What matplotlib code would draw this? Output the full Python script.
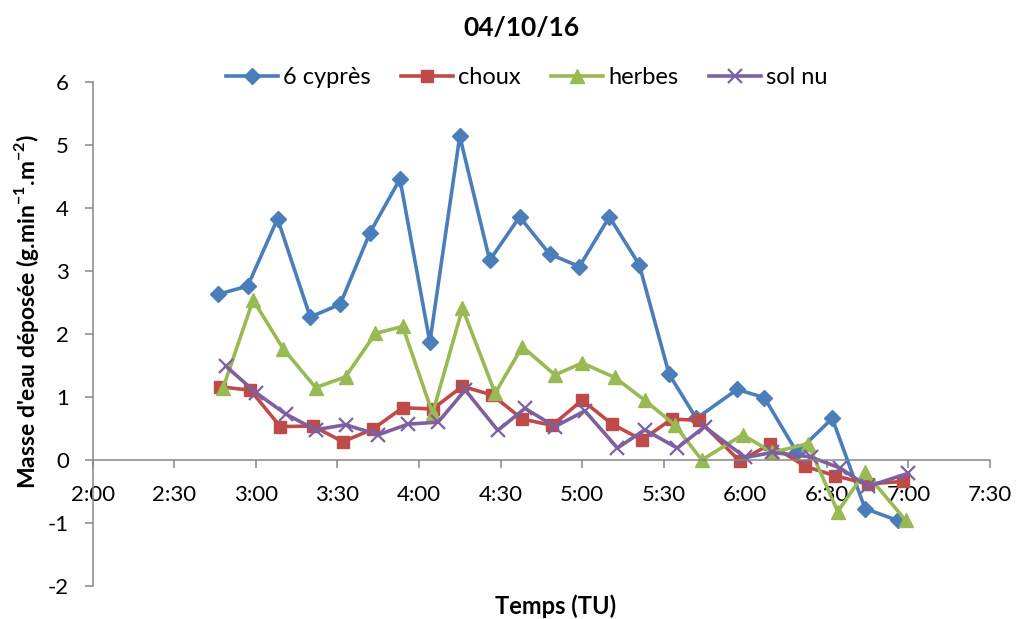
import matplotlib.pyplot as plt
from matplotlib.ticker import FixedLocator, FuncFormatter

plt.rcParams['font.family'] = ['Lato', 'DejaVu Sans']
plt.rcParams['axes.unicode_minus'] = False

# Time stamps (TU) and deposited water mass for each plot
t_cypres = ['2:46', '2:57', '3:08', '3:20', '3:31', '3:42', '3:53', '4:04', '4:15', '4:26', '4:37', '4:48',
            '4:59', '5:10', '5:21', '5:32', '5:42', '5:57', '6:07', '6:19', '6:32', '6:44', '6:56']
v_cypres = [2.63, 2.76, 3.83, 2.27, 2.47, 3.61, 4.46, 1.87, 5.14, 3.17, 3.86, 3.27,
            3.07, 3.86, 3.10, 1.36, 0.66, 1.12, 0.99, 0.12, 0.66, -0.77, -0.96]

t_choux = ['2:47', '2:58', '3:09', '3:21', '3:32', '3:43', '3:54', '4:05', '4:16', '4:27', '4:38', '4:49',
           '5:00', '5:11', '5:22', '5:33', '5:43', '5:58', '6:09', '6:22', '6:33', '6:45', '6:58']
v_choux = [1.16, 1.11, 0.53, 0.54, 0.29, 0.49, 0.83, 0.81, 1.17, 1.03, 0.65, 0.55,
           0.95, 0.57, 0.32, 0.65, 0.63, -0.02, 0.25, -0.10, -0.25, -0.38, -0.34]

t_herbes = ['2:48', '2:59', '3:10', '3:22', '3:33', '3:44', '3:54', '4:05', '4:16', '4:28', '4:38', '4:50',
            '5:00', '5:12', '5:23', '5:34', '5:44', '5:59', '6:10', '6:23', '6:34', '6:44', '6:59']
v_herbes = [1.15, 2.54, 1.77, 1.15, 1.32, 2.01, 2.12, 0.74, 2.41, 1.06, 1.80, 1.35,
            1.54, 1.31, 0.95, 0.56, 0.00, 0.40, 0.12, 0.26, -0.82, -0.19, -0.96]

t_solnu = ['2:49', '3:00', '3:11', '3:22', '3:33', '3:45', '3:56', '4:07', '4:17', '4:29', '4:39', '4:50',
           '5:01', '5:13', '5:23', '5:35', '5:45', '6:00', '6:10', '6:24', '6:35', '6:45', '7:00']
v_solnu = [1.49, 1.07, 0.73, 0.48, 0.56, 0.40, 0.57, 0.60, 1.11, 0.47, 0.82, 0.53,
           0.78, 0.19, 0.48, 0.19, 0.53, 0.04, 0.12, 0.05, -0.13, -0.42, -0.21]


def to_min(times):
    out = []
    for s in times:
        h, m = s.split(':')
        out.append(int(h) * 60 + int(m))
    return out


fig = plt.figure(figsize=(10.17, 6.19), dpi=100)
ax = fig.add_axes([0.0911, 0.0533, 0.8824, 0.8142])

ax.plot(to_min(t_cypres), v_cypres, color='#4A7EBB', lw=2.6, marker='D', ms=8, label='6 cyprès')
ax.plot(to_min(t_choux), v_choux, color='#BE4B48', lw=2.6, marker='s', ms=9, label='choux')
ax.plot(to_min(t_herbes), v_herbes, color='#98B954', lw=2.6, marker='^', ms=10, label='herbes')
ax.plot(to_min(t_solnu), v_solnu, color='#7D60A0', lw=2.6, marker='x', ms=10, mew=1.6, label='sol nu')

ax.set_xlim(120, 450)
ax.set_ylim(-2, 6)
ax.xaxis.set_major_locator(FixedLocator(range(120, 451, 30)))
ax.xaxis.set_major_formatter(FuncFormatter(lambda x, p: '%d:%02d' % (x // 60, x % 60)))
ax.set_yticks(range(-2, 7))

ax.spines['top'].set_visible(False)
ax.spines['right'].set_visible(False)
ax.spines['bottom'].set_position(('data', 0))
for s in ['left', 'bottom']:
    ax.spines[s].set_color('#868686')
    ax.spines[s].set_linewidth(1.1)
ax.tick_params(axis='both', colors='#868686', labelcolor='black', length=6, width=1.1, labelsize=16)
ax.tick_params(axis='y', pad=11)
ax.tick_params(axis='x', pad=12)

fig.text(0.513, 0.955, '04/10/16', ha='center', va='center', fontsize=19, fontweight='bold')
fig.text(0.546, 0.020, 'Temps (TU)', ha='center', va='center', fontsize=17, fontweight='bold')
fig.text(0.026, 0.497, "Masse d'eau déposée (g.min$^{\\mathregular{-1}}$.m$^{\\mathregular{-2}}$)",
         ha='center', va='center', rotation=90, fontsize=16.5, fontweight='bold')

fig.legend(loc='center', bbox_to_anchor=(0.518, 0.874), ncol=4, frameon=False, fontsize=17,
           handlelength=2.2, handletextpad=0.2, columnspacing=1.3)

plt.savefig('out.png', dpi=100)
